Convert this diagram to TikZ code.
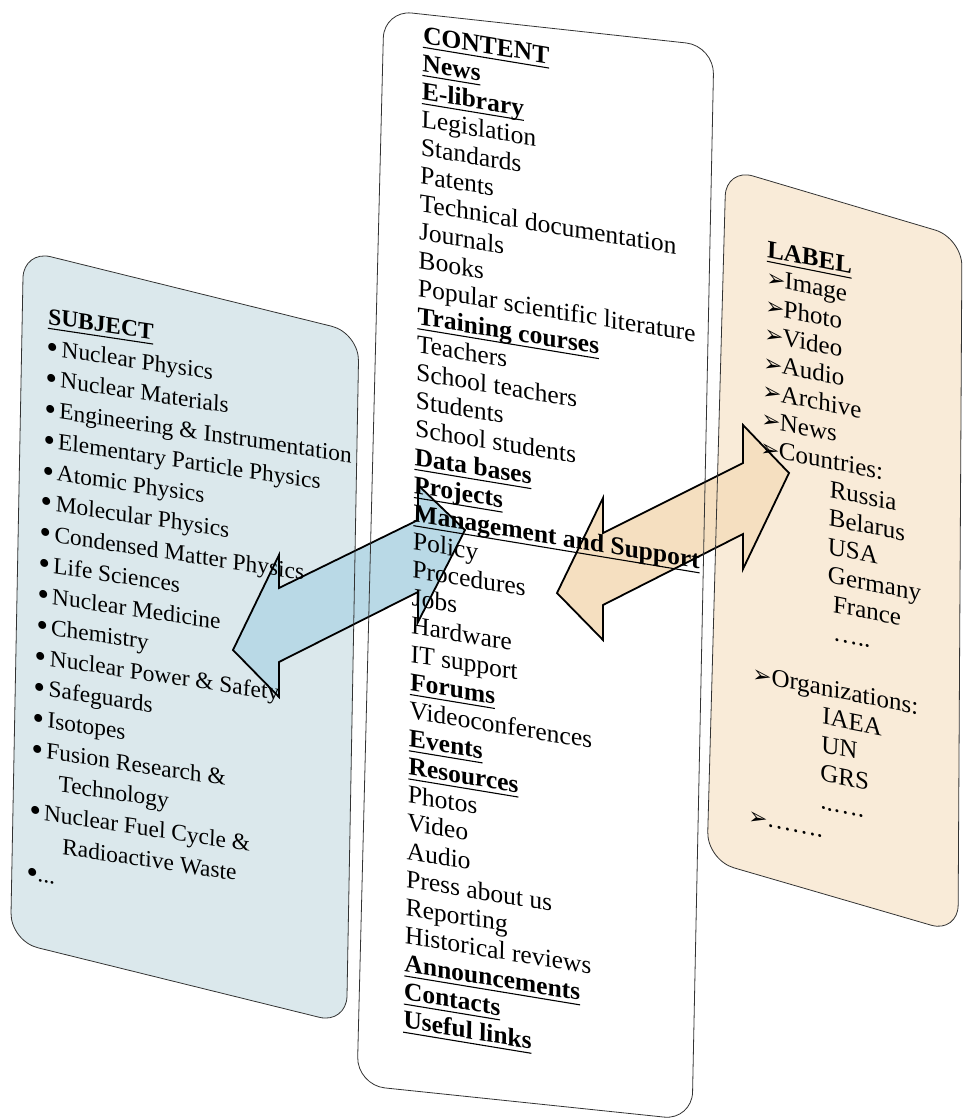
\documentclass[tikz,border=0pt]{standalone}
\usepackage{fontspec}
\setmainfont{Liberation Serif}
\newfontfamily\dejavu{DejaVu Sans}
\definecolor{lpanel}{RGB}{219,232,236}
\definecolor{rpanel}{RGB}{249,235,216}
\definecolor{barrow}{RGB}{185,217,230}
\definecolor{oarrow}{RGB}{245,223,192}
\newcommand{\hd}[1]{\setbox0\hbox{\bfseries #1}\rlap{\rule[-4.8pt]{\wd0}{1.1pt}}\box0}
\newcommand{\arrb}{{\dejavu\fontsize{23}{23}\selectfont ➢}\kern-1pt}
\newcommand{\bul}{\raisebox{-2.5pt}{\fontsize{33}{33}\selectfont •}\kern3pt}
\tikzset{
  panelline/.style={draw=black!80, line width=0.8pt, rounded corners=28pt},
  panelfill/.style={rounded corners=28pt},
  blockarrow/.style={draw=black, line width=1.8pt, line join=miter},
  txt/.style={anchor=base west, inner sep=0pt, outer sep=0pt, transform shape},
  ltxt/.style={txt, font=\fontsize{23.4}{26}\selectfont},
  ctxt/.style={txt, font=\fontsize{25.5}{28}\selectfont},
  rtxt/.style={txt, font=\fontsize{25}{28}\selectfont},
}
\begin{document}
\begin{tikzpicture}[x=1pt,y=-1pt]
\useasboundingbox (0,0) rectangle (963,1120);
% panel corners
\coordinate (L1) at (23.5,250);  \coordinate (L2) at (359,333);
\coordinate (L3) at (346.5,1024);\coordinate (L4) at (10.5,941);
\coordinate (C1) at (384,10);    \coordinate (C2) at (714,46);
\coordinate (C3) at (692,1120);  \coordinate (C4) at (357,1085);
\coordinate (R1) at (726,168);   \coordinate (R2) at (962,238);
\coordinate (R3) at (958,933);   \coordinate (R4) at (707,860);
% panel fills
\fill[lpanel, panelfill] (L1) -- (L2) -- (L3) -- (L4) -- cycle;
\fill[white, panelfill] (C1) -- (C2) -- (C3) -- (C4) -- cycle;
\fill[rpanel, panelfill] (R1) -- (R2) -- (R3) -- (R4) -- cycle;
% blue double arrow
\coordinate (b1) at (233,650); \coordinate (b2) at (279,555);
\coordinate (b3) at (279,588); \coordinate (b4) at (418,520);
\coordinate (b5) at (418,485); \coordinate (b6) at (465,530);
\coordinate (b7) at (418,622); \coordinate (b8) at (418,592);
\coordinate (b9) at (279,662); \coordinate (b10) at (279,697);
\draw[blockarrow, fill=barrow] (b1) -- (b2) -- (b3) -- (b4) -- (b5) -- (b6)
  -- (b7) -- (b8) -- (b9) -- (b10) -- cycle;
% orange double arrow
\coordinate (o1) at (557,593); \coordinate (o2) at (603,498);
\coordinate (o3) at (603,533); \coordinate (o4) at (743,463);
\coordinate (o5) at (743,425); \coordinate (o6) at (789,473);
\coordinate (o7) at (743,569); \coordinate (o8) at (743,534);
\coordinate (o9) at (603,605); \coordinate (o10) at (603,640);
\draw[blockarrow, fill=oarrow] (o1) -- (o2) -- (o3) -- (o4) -- (o5) -- (o6)
  -- (o7) -- (o8) -- (o9) -- (o10) -- cycle;
% panel outlines
\draw[panelline] (L1) -- (L2) -- (L3) -- (L4) -- cycle;
\draw[panelline] (C1) -- (C2) -- (C3) -- (C4) -- cycle;
\draw[panelline] (R1) -- (R2) -- (R3) -- (R4) -- cycle;
% SUBJECT panel text
\begin{scope}[shift={(48,324)}, cm={1,-0.15,0.038,1,(0,0)}]
\foreach \i/\t in {0/{\hd{SUBJECT}}, 1/{\bul Nuclear Physics}, 2/{\bul Nuclear Materials},
  3/{\bul Engineering \& Instrumentation}, 4/{\bul Elementary Particle Physics},
  5/{\bul Atomic Physics}, 6/{\bul Molecular Physics}, 7/{\bul Condensed Matter Physics},
  8/{\bul Life Sciences}, 9/{\bul Nuclear Medicine}, 10/{\bul Chemistry},
  11/{\bul Nuclear Power \& Safety}, 12/{\bul Safeguards}, 13/{\bul Isotopes},
  14/{\bul Fusion Research \&}, 15/{\kern28pt Technology},
  16/{\bul Nuclear Fuel Cycle \&}, 17/{\kern34pt Radioactive Waste},
  18/{\raisebox{-2.5pt}{\fontsize{33}{33}\selectfont •}\kern-1pt...}}
  {\node[ltxt] (s\i) at (0,\i*30.9) {\t};}
\end{scope}
% CONTENT panel text
\begin{scope}[shift={(423,43)}, cm={1,-0.165,0.020,1,(0,0)}]
\foreach \i/\t in {0/{\hd{CONTENT}}, 1/{\hd{News}}, 2/{\hd{E-library}},
  3/{Legislation}, 4/{Standards}, 5/{Patents}, 6/{Technical documentation},
  7/{Journals}, 8/{Books}, 9/{Popular scientific literature},
  10/{\hd{Training courses}}, 11/{Teachers}, 12/{School teachers},
  13/{Students}, 14/{School students}, 15/{\hd{Data bases}},
  16/{\hd{Projects}}, 17/{\hd{Management and Support}}, 18/{Policy},
  19/{Procedures}, 20/{Jobs}, 21/{Hardware}, 22/{IT support},
  23/{\hd{Forums}}, 24/{Videoconferences}, 25/{\hd{Events}},
  26/{\hd{Resources}}, 27/{Photos}, 28/{Video}, 29/{Audio},
  30/{Press about us}, 31/{Reporting}, 32/{Historical reviews},
  33/{\hd{Announcements}}, 34/{\hd{Contacts}}, 35/{\hd{Useful links}}}
  {\node[ctxt] (c\i) at (0,\i*28.14) {\t};}
\end{scope}
% LABEL panel text
\begin{scope}[shift={(767,257)}, cm={1,-0.2,0.033,1,(0,0)}]
\foreach \i/\t in {0/{\hd{LABEL}}, 1/{\arrb Image}, 2/{\arrb Photo},
  3/{\arrb Video}, 4/{\arrb Audio}, 5/{\arrb Archive}, 6/{\arrb News},
  7/{\arrb Countries:}, 8/{\kern70pt Russia}, 9/{\kern70pt Belarus},
  10/{\kern70pt USA}, 11/{\kern71pt Germany}, 12/{\kern77pt France},
  13/{\kern78pt …..}, 15/{\arrb Organizations:}, 16/{\kern70pt IAEA},
  17/{\kern70pt UN}, 18/{\kern70pt GRS}, 19/{\kern71pt ..….},
  20/{\arrb …….}}
  {\node[rtxt] (r\i) at (0,\i*28.3) {\t};}
\end{scope}
\end{tikzpicture}
\end{document}
